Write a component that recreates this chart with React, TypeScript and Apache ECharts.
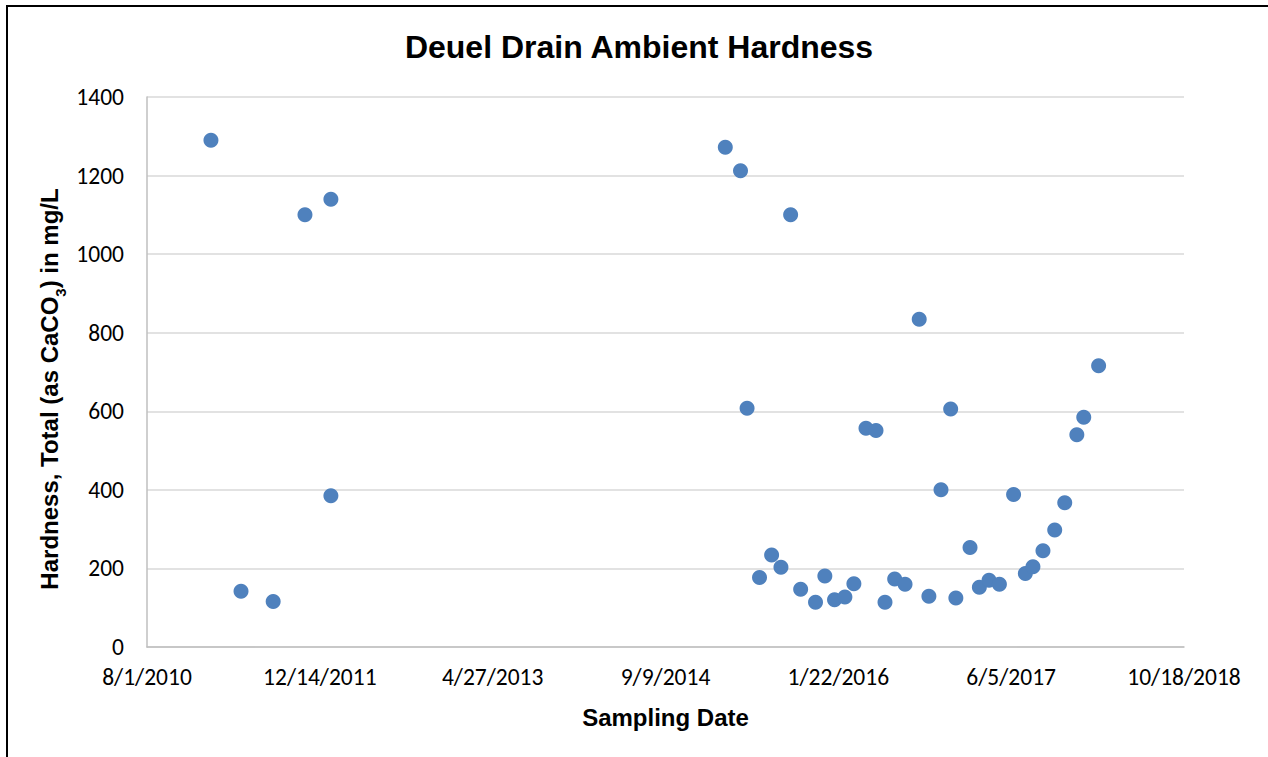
import React, { useEffect, useRef } from "react";
import * as echarts from "echarts";

const sampleDates: string[] = [
  "2011-02-02", "2011-04-30", "2011-08-01", "2011-11-01", "2012-01-15", "2012-01-15",
  "2015-03-01", "2015-04-14", "2015-05-03", "2015-06-08", "2015-07-13", "2015-08-09",
  "2015-09-06", "2015-10-05", "2015-11-17", "2015-12-14", "2016-01-11", "2016-02-10",
  "2016-03-07", "2016-04-11", "2016-05-10", "2016-06-05", "2016-07-03", "2016-08-02",
  "2016-09-12", "2016-10-10", "2016-11-14", "2016-12-12", "2016-12-27", "2017-02-06",
  "2017-03-05", "2017-04-02", "2017-05-02", "2017-06-12", "2017-07-16", "2017-08-07",
  "2017-09-05", "2017-10-09", "2017-11-07", "2017-12-12", "2018-01-01", "2018-02-13",
];

const hardness: number[] = [
  1290, 142, 116, 1100, 1140, 385,
  1272, 1212, 608, 177, 234, 203,
  1100, 147, 114, 181, 120, 127,
  161, 557, 551, 114, 173, 160,
  834, 129, 400, 606, 125, 253,
  152, 170, 160, 388, 187, 204,
  245, 298, 367, 540, 585, 716,
];

const axisStartDate = "2010-08-01";
const axisSpanDays = 3000;
const tickStepDays = 500;
const yMax = 1400;
const yStep = 200;

const DAY = 86400000;
const parseUTC = (s: string) => {
  const [y, m, d] = s.split("-").map(Number);
  return Date.UTC(y, m - 1, d);
};
const BASE = parseUTC(axisStartDate);
const toDays = (s: string) => Math.round((parseUTC(s) - BASE) / DAY);
const fmtDate = (days: number) => {
  const dt = new Date(BASE + days * DAY);
  return `${dt.getUTCMonth() + 1}/${dt.getUTCDate()}/${dt.getUTCFullYear()}`;
};

const tickFont = "Carlito, Lato, 'Open Sans', sans-serif";
const boldFont = "'Liberation Sans', Arial, sans-serif";

export default function App() {
  const ref = useRef<HTMLDivElement>(null);

  useEffect(() => {
    if (!ref.current) return;
    const chart = echarts.init(ref.current, undefined, { renderer: "svg" });
    const points = sampleDates.map((d, i) => [toDays(d), hardness[i]]);
    chart.setOption({
      animation: false,
      backgroundColor: "#ffffff",
      title: {
        text: "Deuel Drain Ambient Hardness",
        left: 634,
        textAlign: "center",
        top: 26,
        textStyle: {
          fontFamily: boldFont,
          fontWeight: "bold",
          fontSize: 32,
          color: "#000000",
        },
      },
      graphic: [
        {
          type: "rect",
          shape: { x: 7, y: 6, width: 1300, height: 800 },
          style: { fill: "none", stroke: "#000000", lineWidth: 2 },
          silent: true,
        },
        {
          type: "text",
          x: 49,
          y: 389,
          rotation: Math.PI / 2,
          silent: true,
          style: {
            text: "{t|Hardness, Total (as CaCO}{s|3}{t|) in mg/L}",
            align: "center",
            verticalAlign: "middle",
            rich: {
              t: {
                fontFamily: boldFont,
                fontWeight: "bold",
                fontSize: 24,
                fill: "#000000",
                lineHeight: 30,
              },
              s: {
                fontFamily: boldFont,
                fontWeight: "bold",
                fontSize: 15,
                fill: "#000000",
                lineHeight: 30,
                verticalAlign: "bottom",
                padding: [0, 0, -4, 0],
              },
            },
          },
        },
      ],
      grid: { left: 147, right: 84, top: 97, bottom: 110 },
      xAxis: {
        type: "value",
        min: 0,
        max: axisSpanDays,
        interval: tickStepDays,
        name: "Sampling Date",
        nameLocation: "middle",
        nameGap: 58,
        nameTextStyle: {
          fontFamily: boldFont,
          fontWeight: "bold",
          fontSize: 24,
          color: "#000000",
          verticalAlign: "top",
        },
        axisLine: { show: true, lineStyle: { color: "#BFBFBF", width: 1.5 } },
        axisTick: { show: false },
        splitLine: { show: false },
        axisLabel: {
          formatter: (v: number) => fmtDate(v),
          fontFamily: tickFont,
          fontSize: 23.5,
          color: "#000000",
          margin: 18,
          showMinLabel: true,
          showMaxLabel: true,
        },
      },
      yAxis: {
        type: "value",
        min: 0,
        max: yMax,
        interval: yStep,
        axisLine: { show: true, lineStyle: { color: "#BFBFBF", width: 1.5 } },
        axisTick: { show: false },
        splitLine: { show: true, lineStyle: { color: "#D9D9D9", width: 1.5 } },
        axisLabel: {
          formatter: (v: number) => String(v),
          fontFamily: tickFont,
          fontSize: 23.5,
          color: "#000000",
          margin: 23,
        },
      },
      series: [
        {
          type: "scatter",
          data: points,
          symbol: "circle",
          symbolSize: 15,
          itemStyle: { color: "#4F81BD", opacity: 1 },
        },
      ],
    });
    return () => chart.dispose();
  }, []);

  return (
    <div
      ref={ref}
      style={{ position: "fixed", left: 0, top: 0, width: 1268, height: 757 }}
    />
  );
}
